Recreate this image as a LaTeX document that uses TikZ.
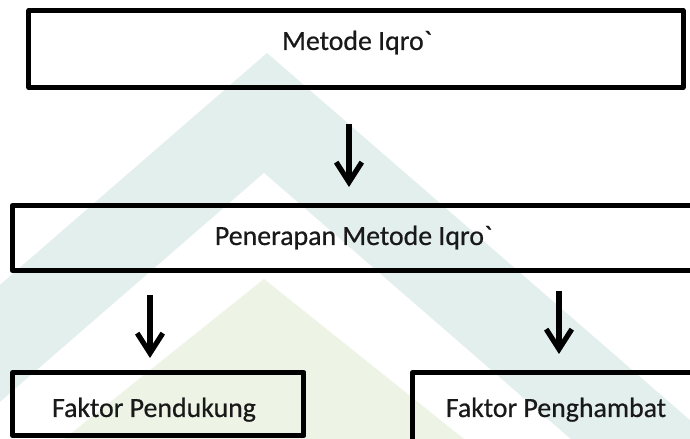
\documentclass[tikz,border=0pt]{standalone}
\usepackage{fontspec}
\setmainfont{Carlito}
\newfontfamily\boxfont{Carlito}[FakeBold=0.6]
\usepackage{tikz}
\usetikzlibrary{arrows.meta}
\definecolor{wmteal}{HTML}{E3EFED}
\definecolor{wmgreen}{HTML}{EDF4E6}

\begin{document}
\begin{tikzpicture}[box/.style={draw, line width=.125cm, line join=round, outer sep=0pt, inner sep=0pt},
	txt/.style={anchor=base, font=\boxfont\fontsize{19.8}{24}\selectfont, text=black!90},
	arr/.style={line width=.13cm, arrows={-{Straight Barb[length=.5cm,width=.64cm]}}}]
	\clip (0,0) rectangle (17.25,10.975);
	\fill[color=wmteal] (6.675,9.65) -- (-9.05,-4) -- (22.4,-4) -- cycle;
	\fill[color=white] (6.6,6.65) -- (-5.675,-4) -- (18.875,-4) -- cycle;
	\fill[color=wmgreen] (6.6,4) -- (-3.4,-4) -- (16.6,-4) -- cycle;
	\node[box, minimum width=16.35cm, minimum height=1.925cm] (iqro) at (8.9,9.75) {};
	\node[txt] (iqrotxt) at (8.925,9.725) {Metode Iqro\symbol{96}};
	\node[box, minimum width=17.94cm, minimum height=1.625cm] (terap) at (9.28,5.025) {};
	\node[txt] (terGaptxt) at (8.8375,4.85) {Penerapan Metode Iqro\symbol{96}};
	\node[box, minimum width=7.2875cm, minimum height=1.575cm] (dukung) at (3.956,.875) {};
	\node[txt] (dukungtxt) at (3.85,.55) {Faktor Pendukung};
	\node[box, minimum width=7.94cm, minimum height=2.4375cm] (hambat) at (14.28,.44375) {};
	\node[txt] (hambattxt) at (13.9,.55) {Faktor Penghambat};
	\draw[arr, shorten <=.9125cm, shorten >=.4625cm] ([xshift=-.175cm]iqro.south) -- ([xshift=-.175cm]iqro.south |- terap.north);
	\draw[arr, shorten <=.6125cm, shorten >=.3625cm] (dukung.north |- terap.south) ++(-.206,0) -- ([xshift=-.206cm]dukung.north);
	\draw[arr, shorten <=.5125cm, shorten >=.4625cm] ([xshift=-.305cm]hambat.north |- terap.south) -- ([xshift=-.305cm]hambat.north);
\end{tikzpicture}
\end{document}
